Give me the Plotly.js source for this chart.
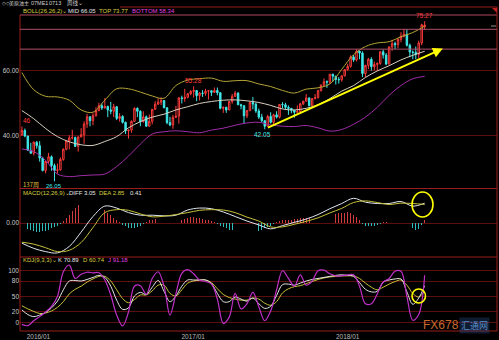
<!DOCTYPE html>
<html><head><meta charset="utf-8">
<script src="https://cdn.plot.ly/plotly-3.0.1.min.js"></script>
<style>html,body{margin:0;padding:0;background:#000;}#chart{width:499px;height:340px;}</style>
</head><body><div id="chart"></div>
<script>
// ---------- DATA (weekly, main WTI crude contract) ----------
const firstWeek = '2015-11-23';
const weekCount = 137;
const open  = [40.4,41.7,40.0,35.6,34.7,38.1,37.0,33.2,29.4,32.2,33.6,30.9,29.4,29.6,32.8,35.9,38.5,39.4,39.5,36.8,39.7,40.4,43.7,45.9,44.7,46.2,47.8,49.3,48.6,49.1,48.0,47.6,49.0,45.4,46.0,44.2,41.6,41.8,44.5,48.5,47.6,44.4,45.9,43.0,44.5,48.2,49.8,50.4,50.9,48.7,44.1,43.4,45.7,46.1,51.7,51.5,51.9,53.0,53.7,54.0,52.4,53.2,53.1,53.8,53.9,53.4,54.0,53.3,48.5,48.8,48.0,50.6,52.2,53.2,49.6,49.3,46.2,47.8,50.3,49.8,47.7,45.8,44.7,43.0,46.0,44.2,46.5,45.8,49.7,49.6,48.8,48.5,47.9,47.3,47.5,49.9,50.7,51.7,49.3,51.5,51.8,53.9,55.6,56.7,56.6,59.0,58.4,57.4,57.3,58.5,60.4,61.4,64.3,63.4,66.1,65.5,59.2,61.7,63.6,61.3,62.0,62.3,65.9,64.9,62.1,67.4,68.4,68.1,69.7,70.7,71.3,67.9,65.8,65.7,65.1,68.6,73.6];
const high  = [42.9,42.3,40.0,37.9,38.3,38.4,38.4,33.6,32.3,34.8,34.0,31.5,31.5,33.4,36.2,38.7,40.2,41.9,39.8,39.9,42.4,44.5,46.8,46.0,47.0,48.8,50.2,50.0,51.7,49.3,50.5,49.9,49.0,47.0,46.4,44.4,42.0,44.8,48.8,48.8,47.9,47.6,46.3,46.6,48.3,50.7,51.6,51.9,51.0,48.8,45.9,46.5,49.2,52.0,52.4,54.5,53.2,54.1,55.28,54.0,53.5,54.1,54.5,54.0,54.0,54.9,54.9,53.5,49.0,49.0,50.8,52.9,53.8,53.4,49.9,49.4,48.0,50.6,52.0,50.2,48.4,46.8,44.8,46.5,47.3,46.8,47.6,49.8,50.4,50.2,49.4,48.6,48.0,49.4,50.2,50.8,52.9,51.9,51.6,52.9,54.2,55.9,57.7,57.1,59.05,59.1,58.5,58.1,58.6,60.5,62.2,64.8,64.9,66.7,66.2,66.0,61.9,64.0,64.2,62.9,62.6,66.0,66.6,65.5,67.5,69.6,69.0,70.0,71.9,72.9,72.8,68.4,66.3,67.5,69.3,74.5,75.27];
const low   = [40.0,39.6,35.4,34.5,34.0,36.1,32.1,29.1,28.5,31.5,29.3,26.05,28.4,29.3,32.4,35.6,35.9,38.9,36.6,35.2,39.6,37.6,42.5,43.0,43.3,46.0,47.6,48.0,48.5,45.8,46.7,45.8,44.9,44.4,43.8,40.6,39.2,41.0,44.3,45.8,43.0,44.1,42.8,42.9,43.6,48.0,49.5,49.5,48.5,43.6,43.0,42.2,45.6,43.8,50.0,50.5,51.6,52.5,51.8,50.7,50.9,52.0,52.4,51.2,52.3,53.3,52.5,48.2,47.1,47.1,47.9,49.9,52.0,49.5,48.2,43.8,45.5,47.6,48.2,47.1,45.2,44.2,42.05,42.8,43.8,43.6,45.4,45.4,48.5,48.2,46.5,47.0,45.6,46.9,47.3,49.5,50.6,49.1,49.1,51.2,51.5,53.7,55.3,54.8,56.0,56.7,55.8,56.1,56.7,58.3,60.1,61.0,62.8,62.9,63.6,58.1,58.1,60.6,60.1,60.2,60.0,61.9,63.8,61.8,62.0,66.2,66.7,67.0,68.8,70.3,67.5,64.2,63.6,63.6,63.9,67.9,72.6];
const close = [41.7,40.0,35.6,34.7,38.1,37.0,33.2,29.4,32.2,33.6,30.9,29.4,29.6,32.8,35.9,38.5,39.4,39.5,36.8,39.7,40.4,43.7,45.9,44.7,46.2,47.8,49.3,48.6,49.1,48.0,47.6,49.0,45.4,46.0,44.2,41.6,41.8,44.5,48.5,47.6,44.4,45.9,43.0,44.5,48.2,49.8,50.4,50.9,48.7,44.1,43.4,45.7,46.1,51.7,51.5,51.9,53.0,53.7,54.0,52.4,53.2,53.1,53.8,53.9,53.4,54.0,53.3,48.5,48.8,48.0,50.6,52.2,53.2,49.6,49.3,46.2,47.8,50.3,49.8,47.7,45.8,44.7,43.0,46.0,44.2,46.5,45.8,49.7,49.6,48.8,48.5,47.9,47.3,47.5,49.9,50.7,51.7,49.3,51.5,51.8,53.9,55.6,56.7,56.6,59.0,58.4,57.4,57.3,58.5,60.4,61.4,64.3,63.4,66.1,65.5,59.2,61.7,63.6,61.3,62.0,62.3,65.9,64.9,62.1,67.4,68.4,68.1,69.7,70.7,71.3,67.9,65.8,65.7,65.1,68.6,74.2,74.1];

// Bollinger (26,26,2) read every 4th week
const bollStep = 4;
const bollUp  = [59.5,54.2,52.2,52.0,51.0,48.0,47.3,51.0,54.5,54.5,53.5,52.3,51.6,55.5,57.2,57.6,57.8,56.8,57.0,57.0,56.0,55.2,54.0,53.2,54.4,54.8,56.0,60.5,65.0,67.5,68.6,69.0,70.5,71.8,73.77];
const bollMid = [47.8,45.3,42.3,39.8,38.2,37.3,37.1,38.3,39.8,42.5,44.4,45.8,46.7,48.0,49.0,50.0,50.6,51.0,51.1,50.8,50.3,49.4,48.3,48.0,48.5,49.6,51.5,53.8,55.5,58.0,60.0,61.6,63.4,64.8,66.05];
const bollLow = [36.0,35.2,32.5,28.3,27.5,27.8,28.0,28.3,30.6,33.8,37.5,40.6,41.3,41.6,41.3,41.0,41.8,42.4,43.3,44.0,44.2,43.4,43.0,42.9,43.2,42.5,41.5,42.0,43.6,45.8,48.8,52.5,55.5,57.6,58.34];

// MACD (12,26,9): DIFF / DEA every 4th week, histogram weekly
const macdStep = 4;
const diff = [-3.1,-3.9,-4.4,-4.6,-3.6,-1.4,1.0,2.6,2.3,1.6,1.2,1.2,1.1,1.2,2.0,2.3,2.2,1.7,1.0,0.3,-0.3,-0.9,-0.4,0.1,0.6,1.3,2.2,3.0,3.8,3.2,3.0,3.0,3.3,2.6,3.05];
const dea  = [-2.95,-3.25,-3.8,-4.4,-4.2,-3.0,-0.7,1.6,2.05,1.95,1.4,0.95,1.05,1.3,1.6,1.95,2.05,2.0,1.6,0.9,0.3,-0.6,-0.6,-0.2,0.25,0.8,1.55,2.25,3.15,3.4,3.15,2.85,3.05,3.0,2.85];
const macdHist = [-0.3,-0.6,-0.9,-1.1,-1.3,-1.4,-1.4,-1.3,-1.2,-1.0,-0.8,-0.6,-0.4,-0.2,
 0.3,0.8,1.3,1.8,2.3,2.7,3.1,3.4,3.6,3.6,3.4,3.1,2.8,2.4,2.0,1.6,1.2,0.8,0.5,0.2,
 -0.3,-0.5,-0.7,-0.8,-0.8,-0.6,-0.4,-0.2,
 0.2,0.4,0.5,0.6,0.5,0.3,0.1,
 -0.2,-0.4,-0.4,-0.2,
 0.2,0.4,0.6,0.8,0.9,0.9,0.8,0.7,0.6,0.5,0.4,0.3,0.1,
 -0.2,-0.4,-0.6,-0.8,-1.0,-1.1,-1.2,-1.2,-1.2,-1.3,-1.2,-1.3,-1.2,-1.1,-1.2,-1.0,-0.8,-0.6,-0.4,-0.2,
 0.2,0.3,0.4,0.4,0.5,0.5,0.6,0.6,0.7,0.7,0.8,0.8,0.9,1.0,1.0,1.1,1.2,1.3,1.3,1.4,1.4,1.5,1.6,1.6,1.7,1.6,1.3,0.9,0.5,
 -0.2,-0.4,-0.5,-0.5,-0.4,-0.3,-0.1,
 0.1,0.2,0.3,0.4,0.5,0.5,0.5,0.4,0.2,
 -0.4,-0.8,-1.1,-0.9,-0.3,
 0.41];

// KDJ (9,3,3) every 2nd week
const kdjStep = 2;
const kVal = [24,15,11,14,19,28,41,63,80,81,80,83,87,91,87,70,43,25,28,51,58,54,68,81,60,40,51,70,82,82,82,82,75,56,40,40,49,45,41,47,36,27,31,52,73,74,72,76,80,83,85,87,89,91,92,91,89,77,64,59,60,78,82,84,84,59,35,47,70.89];
const dVal = [32,26,21,17,18,22,29,40,55,64,70,78,84,89,89,80,63,46,38,44,53,53,61,72,72,56,51,63,76,80,82,82,77,65,54,48,45,43,43,47,45,37,33,40,57,65,69,71,75,79,83,86,88,89,90,90,90,85,76,68,63,68,74,79,82,72,56,49,60.74];
const jVal = [-4,-6.5,3,11,20,31,50,98,111,85,93,97,96,96,82,53,14,-7,20,70,71,54,85,98,70,14,55,95,102,94,82,79,74,45,-2,10,56,26,36,58,30,3,22,63,100,85,70,92,72,80,100,101,94,90,90,92,92,70,36,36,55,78,85,99,99,50,4,15,91.18];

const xTickVals = ['2016-01-01','2017-01-01','2018-01-01'];
const xTickText = ['2016/01','2017/01','2018/01'];

// ---------- helpers ----------
const weeks = [];
{ const t0 = Date.parse(firstWeek + 'T00:00:00Z');
  for (let i = 0; i < weekCount; i++) weeks.push(new Date(t0 + i*7*86400000).toISOString().slice(0,10)); }
const pick = (step) => weeks.filter((_, i) => i % step === 0);
const W = 499, H = 340;
const px = x => x / W, py = y => 1 - y / H;

const RED = '#ff3b3b', CYAN = '#3fe8e8', BORDER = '#9a1c1c', GRID = '#5c0f0f';
const FONT = 'Liberation Sans, Arial, sans-serif';
const CJK = 'Noto Sans CJK SC, sans-serif';

const traces = [
  {type:'scatter', mode:'lines', x:pick(bollStep), y:bollUp, xaxis:'x', yaxis:'y',
   line:{color:'#b5a436', width:1, shape:'spline'}, hoverinfo:'skip'},
  {type:'scatter', mode:'lines', x:pick(bollStep), y:bollMid, xaxis:'x', yaxis:'y',
   line:{color:'#d8d0c0', width:1, shape:'spline'}, hoverinfo:'skip'},
  {type:'scatter', mode:'lines', x:pick(bollStep), y:bollLow, xaxis:'x', yaxis:'y',
   line:{color:'#a02ca8', width:1, shape:'spline'}, hoverinfo:'skip'},
  {type:'candlestick', x:weeks, open:open, high:high, low:low, close:close, xaxis:'x', yaxis:'y',
   increasing:{line:{color:RED, width:1}, fillcolor:'#000000'},
   decreasing:{line:{color:CYAN, width:1}, fillcolor:CYAN},
   whiskerwidth:0, hoverinfo:'skip'},
  {type:'bar', x:weeks, y:macdHist, xaxis:'x', yaxis:'y2',
   width: 1.6*86400000,
   marker:{color: macdHist.map(v => v >= 0 ? '#d23c3c' : '#2fbcbc'), line:{width:0}}, hoverinfo:'skip'},
  {type:'scatter', mode:'lines', x:pick(macdStep), y:diff, xaxis:'x', yaxis:'y2',
   line:{color:'#dfe6f0', width:1, shape:'spline'}, hoverinfo:'skip'},
  {type:'scatter', mode:'lines', x:pick(macdStep), y:dea, xaxis:'x', yaxis:'y2',
   line:{color:'#c8c23a', width:1, shape:'spline'}, hoverinfo:'skip'},
  {type:'scatter', mode:'lines', x:pick(kdjStep), y:dVal, xaxis:'x', yaxis:'y3',
   line:{color:'#c8c23a', width:1, shape:'spline'}, hoverinfo:'skip'},
  {type:'scatter', mode:'lines', x:pick(kdjStep), y:kVal, xaxis:'x', yaxis:'y3',
   line:{color:'#e6e6e6', width:1, shape:'spline'}, hoverinfo:'skip'},
  {type:'scatter', mode:'lines', x:pick(kdjStep), y:jVal, xaxis:'x', yaxis:'y3',
   line:{color:'#c030c8', width:1.2, shape:'spline'}, hoverinfo:'skip'}
];

const yBase = {showgrid:true, gridcolor:GRID, gridwidth:1, zeroline:false, showline:false,
  ticks:'', tickfont:{family:FONT, size:6.5, color:'#c8c8c8'}, automargin:false, fixedrange:true};

const line = (x0,y0,x1,y1,c,w) => ({type:'line', xref:'paper', yref:'paper',
  x0:px(x0), y0:py(y0), x1:px(x1), y1:py(y1), line:{color:c, width:w||1}});

const shapes = [
  line(120,7,497,7,BORDER), line(20,15,497,15,'#b0485e'),
  line(20,188.5,497,188.5,BORDER), line(20,257,497,257,BORDER), line(20,331,497,331,BORDER),
  line(20,15,20,331,BORDER), line(497,7,497,331,BORDER),
  line(491,26,496,26,'#909090'),
  {type:'path', xref:'paper', yref:'paper',
   path:'M '+px(492)+' '+py(8)+' L '+px(497)+' '+py(8)+' L '+px(497)+' '+py(13)+' Z',
   fillcolor:'#c02020', line:{width:0}},
  {type:'line', xref:'paper', yref:'y', x0:px(20), x1:px(497), y0:72.8, y1:72.8, line:{color:'#b0506a', width:1}},
  {type:'line', xref:'paper', yref:'y', x0:px(20), x1:px(497), y0:66.7, y1:66.7, line:{color:'#b0506a', width:1}},
  {type:'circle', xref:'paper', yref:'paper', x0:px(412), x1:px(433), y0:py(217), y1:py(192), line:{color:'#ffff00', width:1.6}},
  {type:'circle', xref:'paper', yref:'paper', x0:px(412), x1:px(425.5), y0:py(303), y1:py(289), line:{color:'#ffff00', width:1.6}}
];

const txt = (x,y,t,c,size,fam,extra) => Object.assign({xref:'paper', yref:'paper', x:px(x), y:py(y), text:t,
  showarrow:false, xanchor:'left', yanchor:'middle', font:{family:fam||FONT, size:size||6, color:c}}, extra||{});

const annotations = [
  txt(0,3.5,'◇◇','#c0c0c0',5),
  txt(7,3.5,'美原油主','#d0d0d0',5,CJK),
  txt(29,3.5,'07ME1','#d0d0d0',5.5),
  txt(47,3.5,'0713','#d0d0d0',5.5),
  txt(65,3.5,'周线⌄','#d0d0d0',5.5,CJK),
  txt(21,11,'BOLL(26,26,2)⌄','#d8d040'),
  txt(66,11,'MID 66.05','#e8e8e8'),
  txt(97,11,'TOP 73.77','#d8d040'),
  txt(130,11,'BOTTOM 58.34','#e040e0'),
  txt(21,193,'MACD(12,26,9)⌄','#d8d040'),
  txt(67,193,'DIFF 3.05','#e8e8e8'),
  txt(97,193,'DEA 2.85','#d8d040'),
  txt(128,193,'0.41','#e8e8e8'),
  txt(21,260,'KDJ(9,3,3)⌄','#d8d040'),
  txt(56,260,'K 70.89','#e8e8e8'),
  txt(81,260,'D 60.74','#d8d040'),
  txt(106,260,'J 91.18','#e040e0'),
  txt(21,184.5,'137周','#e0c040',6,CJK),
  txt(21,120,'46',RED,6.5),
  {xref:'x', yref:'y', x:weeks[136], y:75.27, text:'75.27', showarrow:false, yanchor:'bottom', font:{family:FONT,size:6.5,color:RED}},
  {xref:'x', yref:'y', x:weeks[58], y:55.28, text:'55.28', showarrow:false, yanchor:'bottom', font:{family:FONT,size:6.5,color:RED}},
  {xref:'x', yref:'y', x:weeks[82], y:42.05, text:'42.05', showarrow:false, yanchor:'top', xshift:-2, font:{family:FONT,size:6.5,color:CYAN}},
  {xref:'x', yref:'y', x:weeks[11], y:26.05, text:'26.05', showarrow:false, yanchor:'top', font:{family:FONT,size:6,color:CYAN}},
  {xref:'x', yref:'y', axref:'x', ayref:'y', x:'2018-08-14', y:66.9, ax:'2017-06-23', ay:42.37,
   text:'', showarrow:true, arrowhead:2, arrowsize:1, arrowwidth:2, arrowcolor:'#ffff00'},
  txt(421,325,'FX678','#c8692d',12,'Liberation Sans, Arial, sans-serif'),
  txt(459,325,'汇通网','#5a8cc8',9,CJK,{bgcolor:'rgba(40,80,140,0.35)'})
];

const layout = {
  width:W, height:H, paper_bgcolor:'#000', plot_bgcolor:'#000',
  margin:{l:0,r:0,t:0,b:0,pad:0}, showlegend:false, hovermode:false, dragmode:false,
  xaxis:{domain:[px(20), px(497)], type:'date', range:['2015-11-18 12:00','2018-12-20'],
    anchor:'y3', rangeslider:{visible:false}, showgrid:false, zeroline:false, showline:false,
    ticks:'', tickvals:xTickVals, ticktext:xTickText,
    tickfont:{family:FONT, size:6.5, color:'#b8b8b8'}, automargin:false, fixedrange:true},
  yaxis:Object.assign({}, yBase, {domain:[1-188/340, 1-15/340], range:[24.0,77.2],
    tickvals:[40,60], ticktext:['40.00','60.00']}),
  yaxis2:Object.assign({}, yBase, {domain:[1-257/340, 1-189/340], range:[-5.23,5.23],
    tickvals:[0], ticktext:['0.00']}),
  yaxis3:Object.assign({}, yBase, {domain:[1-331/340, 1-257/340], range:[-16.9,126.6],
    tickvals:[0,20,50,80,100], ticktext:['0','20','50','80','100']}),
  shapes:shapes, annotations:annotations, bargap:0
};

Plotly.newPlot('chart', traces, layout, {staticPlot:true, displayModeBar:false});
</script></body></html>
